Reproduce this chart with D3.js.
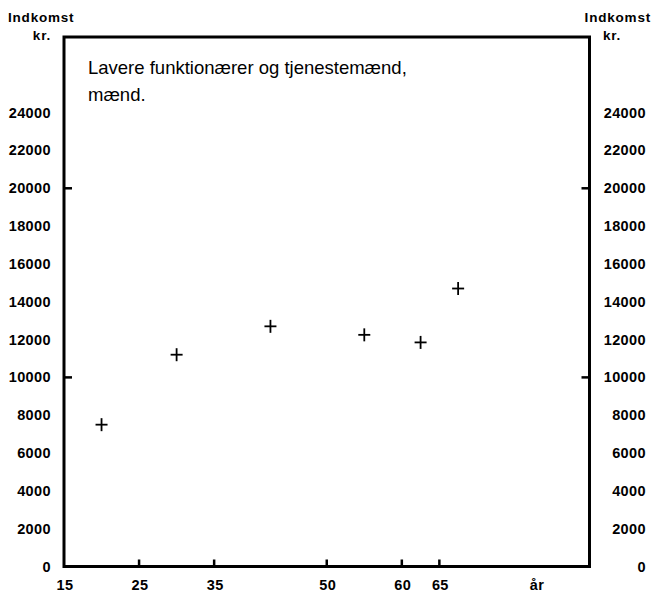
<!DOCTYPE html>
<html>
<head>
<meta charset="utf-8">
<script src="https://cdn.jsdelivr.net/npm/d3@7"></script>
<style>
  html, body { margin: 0; padding: 0; background: #fff; }
  svg { display: block; }
  text { font-family: "Liberation Sans", Arial, Helvetica, sans-serif; fill: #000; }
  .tick-label { font-size: 14.5px; font-weight: bold; letter-spacing: 0.4px; }
  .unit { font-size: 13.5px; font-weight: bold; letter-spacing: 0.8px; }
  .title { font-size: 18.5px; }
</style>
</head>
<body>
<svg id="chart" width="652" height="594"></svg>
<script>
// Income by age group (kr.)
const ages = [20, 30, 42.5, 55, 62.5, 67.5];
const incomes = [7500, 11200, 12700, 12250, 11850, 14700];

const xTicks = [15, 25, 35, 50, 60, 65];
const yTicks = [0, 2000, 4000, 6000, 8000, 10000, 12000, 14000, 16000, 18000, 20000, 22000, 24000];
const yMajorTicks = [10000, 20000];
const titleLines = ["Lavere funktionærer og tjenestemænd,", "mænd."];

const svg = d3.select("#chart");

const x = d3.scaleLinear().domain([15, 85]).range([64, 589.5]);
const y = d3.scaleLinear().domain([0, 28000]).range([566.5, 37]);

const [x0, x1] = x.range();
const [yb, yt] = y.range();

// Frame: left axis, top edge, right axis, bottom axis
svg.append("path")
  .attr("d", `M${x0},${yb} L${x0},${yt} L${x1},${yt} L${x1},${yb} Z`)
  .attr("fill", "none")
  .attr("stroke", "#000")
  .attr("stroke-width", 3);

// Inward ticks on both value axes
svg.selectAll(".ytick-l").data(yMajorTicks).join("line")
  .attr("x1", x0).attr("x2", x0 + 8)
  .attr("y1", d => y(d)).attr("y2", d => y(d))
  .attr("stroke", "#000").attr("stroke-width", 2.5);
svg.selectAll(".ytick-r").data(yMajorTicks).join("line")
  .attr("x1", x1).attr("x2", x1 - 8)
  .attr("y1", d => y(d)).attr("y2", d => y(d))
  .attr("stroke", "#000").attr("stroke-width", 2.5);

// Upward ticks on age axis
svg.selectAll(".xtick").data(xTicks.filter(d => d !== 15)).join("line")
  .attr("x1", d => x(d)).attr("x2", d => x(d))
  .attr("y1", yb).attr("y2", yb - 7)
  .attr("stroke", "#000").attr("stroke-width", 2.5);

// Value labels, left and right
svg.selectAll(".ylab-l").data(yTicks).join("text")
  .attr("class", "tick-label")
  .attr("x", 51).attr("y", d => y(d) + 5)
  .attr("text-anchor", "end")
  .text(d => d);
svg.selectAll(".ylab-r").data(yTicks).join("text")
  .attr("class", "tick-label")
  .attr("x", 646).attr("y", d => y(d) + 5)
  .attr("text-anchor", "end")
  .text(d => d);

// Age labels
svg.selectAll(".xlab").data(xTicks).join("text")
  .attr("class", "tick-label")
  .attr("x", d => x(d) + 1).attr("y", 590)
  .attr("text-anchor", "middle")
  .text(d => d);
svg.append("text").attr("class", "tick-label")
  .attr("x", x(78)).attr("y", 590).attr("text-anchor", "middle").text("år");

// Unit labels
svg.append("text").attr("class", "unit").attr("x", 8).attr("y", 22).text("Indkomst");
svg.append("text").attr("class", "unit").attr("x", 51).attr("y", 40).attr("text-anchor", "end").text("kr.");
svg.append("text").attr("class", "unit").attr("x", 651).attr("y", 22).attr("text-anchor", "end").text("Indkomst");
svg.append("text").attr("class", "unit").attr("x", 603).attr("y", 40).text("kr.");

// Title inside the frame
svg.selectAll(".title").data(titleLines).join("text")
  .attr("class", "title")
  .attr("x", 88).attr("y", (d, i) => 74 + i * 27)
  .text(d => d);

// Plus markers
const s = 6;
const marks = svg.append("g").selectAll("g").data(ages.map((a, i) => [a, incomes[i]])).join("g")
  .attr("transform", d => `translate(${x(d[0])},${y(d[1])})`);
marks.append("line").attr("x1", -s).attr("x2", s).attr("y1", 0).attr("y2", 0)
  .attr("stroke", "#000").attr("stroke-width", 1.8);
marks.append("line").attr("x1", 0).attr("x2", 0).attr("y1", -s - 0.5).attr("y2", s + 0.5)
  .attr("stroke", "#000").attr("stroke-width", 1.8);
</script>
</body>
</html>
